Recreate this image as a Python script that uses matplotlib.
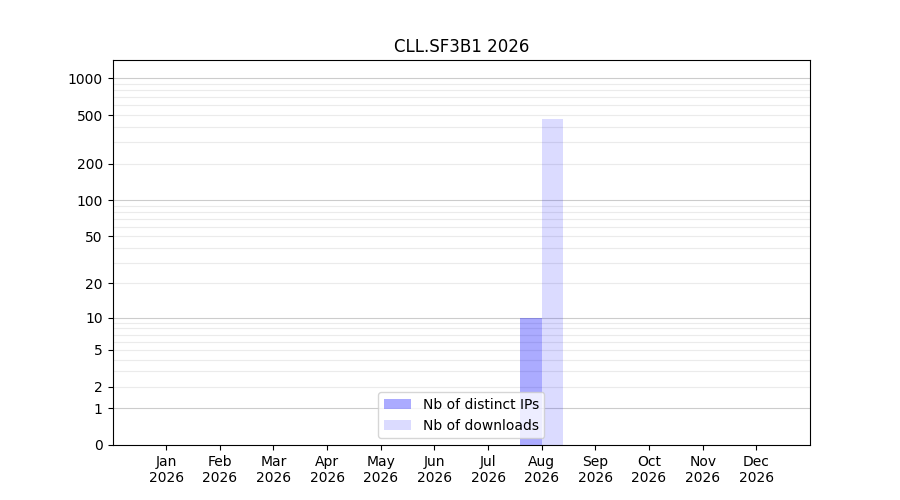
import matplotlib
matplotlib.use("Agg")
import matplotlib.pyplot as plt
import numpy as np

months = ["Jan", "Feb", "Mar", "Apr", "May", "Jun",
          "Jul", "Aug", "Sep", "Oct", "Nov", "Dec"]
year = "2026"
nb_ips = [0, 0, 0, 0, 0, 0, 0, 10, 0, 0, 0, 0]
nb_downloads = [0, 0, 0, 0, 0, 0, 0, 463, 0, 0, 0, 0]
ytick_vals = [0, 1, 2, 5, 10, 20, 50, 100, 200, 500, 1000]


def fwd(v):
    return np.log10(np.asarray(v, dtype=float) + 1)


def inv(v):
    return 10 ** np.asarray(v, dtype=float) - 1


fig, ax = plt.subplots(figsize=(9, 5), dpi=100)
x = np.arange(1, len(months) + 1)

ax.set_yscale("function", functions=(fwd, inv))

ytop = 1412
# grid lines: darker at decades, light for the in-between values
for d in [1, 10, 100, 1000]:
    ax.axhline(d, color="#cccccc", lw=0.8, zorder=0)
    for m in range(2, 10):
        if d * m < ytop:
            ax.axhline(d * m, color="#ebebeb", lw=0.8, zorder=0)

ax.bar(x - 0.2, nb_ips, width=0.4, color="blue", alpha=0.33,
       label="Nb of distinct IPs", zorder=2)
ax.bar(x + 0.2, nb_downloads, width=0.4, color="blue", alpha=0.14,
       label="Nb of downloads", zorder=2)

ax.set_xlim(0, 13)
ax.set_ylim(0, ytop)
ax.set_yticks(ytick_vals)
ax.set_yticklabels([str(v) for v in ytick_vals])
ax.minorticks_off()
ax.set_xticks(x)
ax.set_xticklabels([f"{m}\n{year}" for m in months])

ax.set_title("CLL.SF3B1 2026")
ax.legend(loc="lower center")

fig.savefig("out.png")
